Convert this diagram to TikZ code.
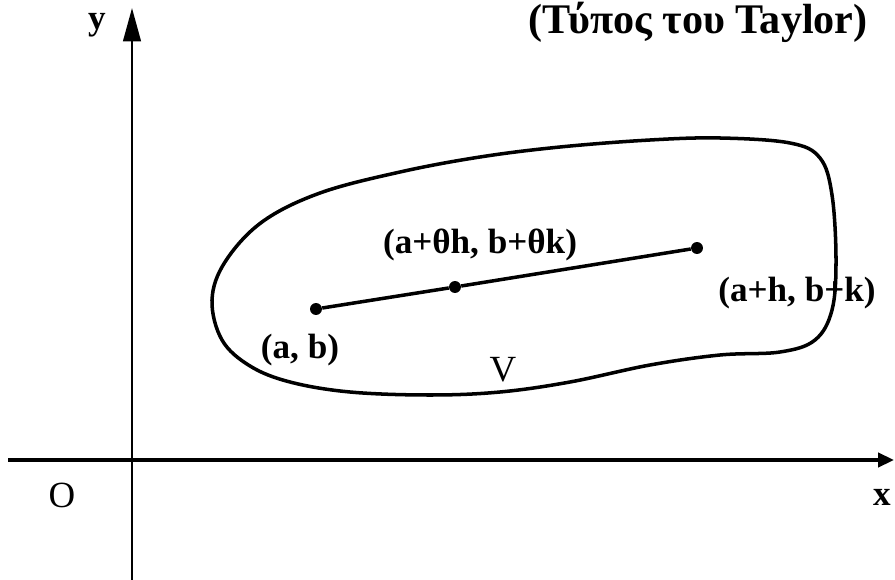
\documentclass[tikz,border=0pt]{standalone}
\usepackage{fontspec}
\setmainfont{Liberation Serif}
\usetikzlibrary{arrows.meta}

\tikzset{
  tyvertex/.style={circle, fill=black, inner sep=2.4pt},
  tyedge/.style={line width=2pt},
  tyaxis/.style={line width=2pt},
  tylabel/.style={font=\fontsize{20}{24}\selectfont\bfseries, inner sep=0pt},
  typlain/.style={font=\fontsize{21}{25}\selectfont, inner sep=0pt}
}

\begin{document}
\begin{tikzpicture}[x=0.02cm, y=-0.02cm]
\useasboundingbox (0,0) rectangle (895,580);
\coordinate (xl) at (8,460);
\coordinate (xr) at (894,460);
\coordinate (yb) at (132,580);
\coordinate (yt) at (132,8);
\draw[tyaxis, -{Triangle[length=9pt, width=8pt]}] (xl) -- (xr);
\draw[line width=1.5pt, -{Triangle[length=19pt, width=10pt]}] (yb) -- (yt);
\draw[tyedge] plot[smooth cycle, tension=0.6] coordinates {
  (212,300) (225,262) (262,222) (320,193) (400,172) (480,157) (560,147)
  (650,140) (720,138) (790,143) (820,158) (832,195) (836,260) (832,310)
  (815,340) (780,352) (720,355) (650,365) (570,382) (500,392) (430,395)
  (350,392) (290,382) (250,366) (222,340)};
\node[tyvertex] (ab) at (316,309) {};
\node[tyvertex] (mid) at (455,287) {};
\node[tyvertex] (hk) at (697,248) {};
\draw[tyedge] (ab) -- (mid) -- (hk);
\node[tylabel] (abtext) at (300,350) {(a, b)};
\node[tylabel] (midtext) at (480,245) {(a+θh, b+θk)};
\node[tylabel] (hktext) at (797,293) {(a+h, b+k)};
\node[typlain] (vtext) at (503,370) {V};
\node[typlain] (otext) at (62,495) {O};
\node[tylabel] (xtext) at (882,497) {x};
\node[tylabel] (ytext) at (97,25) {y};
\node[tylabel, font=\fontsize{24}{28}\selectfont\bfseries] (title) at (698,22) {(Τύπος του Taylor)};
\end{tikzpicture}
\end{document}
